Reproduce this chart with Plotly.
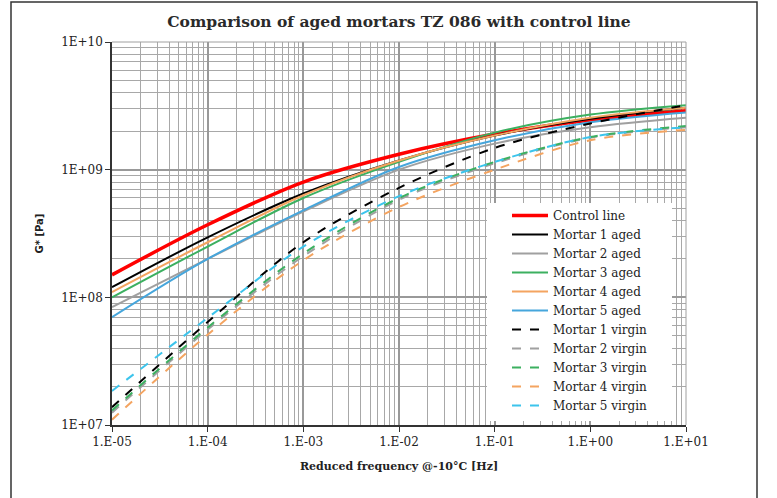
import plotly.graph_objects as go

freq = [1e-5, 1e-4, 1e-3, 1e-2, 1e-1, 1e0, 1e1]

series_names = ["Control line", "Mortar 1 aged", "Mortar 2 aged", "Mortar 3 aged",
                "Mortar 4 aged", "Mortar 5 aged", "Mortar 1 virgin", "Mortar 2 virgin",
                "Mortar 3 virgin", "Mortar 4 virgin", "Mortar 5 virgin"]

control_line = [1.5e8, 3.7e8, 8.0e8, 1.32e9, 1.9e9, 2.45e9, 2.9e9]
mortar1_aged = [1.2e8, 2.95e8, 6.5e8, 1.18e9, 1.85e9, 2.5e9, 3.05e9]
mortar2_aged = [8.4e7, 2.0e8, 4.7e8, 1.0e9, 1.6e9, 2.15e9, 2.55e9]
mortar3_aged = [1.0e8, 2.5e8, 6.0e8, 1.15e9, 1.95e9, 2.7e9, 3.2e9]
mortar4_aged = [1.1e8, 2.7e8, 6.3e8, 1.18e9, 1.85e9, 2.55e9, 3.05e9]
mortar5_aged = [7.0e7, 2.0e8, 4.8e8, 1.05e9, 1.7e9, 2.35e9, 2.8e9]
mortar1_virgin = [1.38e7, 6.4e7, 2.7e8, 7.2e8, 1.48e9, 2.3e9, 3.2e9]
mortar2_virgin = [1.25e7, 5.6e7, 2.1e8, 5.8e8, 1.12e9, 1.78e9, 2.15e9]
mortar3_virgin = [1.3e7, 5.8e7, 2.2e8, 6.0e8, 1.15e9, 1.8e9, 2.2e9]
mortar4_virgin = [1.1e7, 5.1e7, 1.95e8, 5.1e8, 1.0e9, 1.7e9, 2.05e9]
mortar5_virgin = [1.85e7, 6.9e7, 2.5e8, 6.2e8, 1.15e9, 1.8e9, 2.15e9]

x_tickvals = [1e-5, 1e-4, 1e-3, 1e-2, 1e-1, 1e0, 1e1]
x_ticktext = ["1.E-05", "1.E-04", "1.E-03", "1.E-02", "1.E-01", "1.E+00", "1.E+01"]
y_tickvals = [1e7, 1e8, 1e9, 1e10]
y_ticktext = ["1E+07", "1E+08", "1E+09", "1E+10"]

all_values = [control_line, mortar1_aged, mortar2_aged, mortar3_aged, mortar4_aged,
              mortar5_aged, mortar1_virgin, mortar2_virgin, mortar3_virgin,
              mortar4_virgin, mortar5_virgin]

colors = ["#ff0000", "#000000", "#a0a0a0", "#3cb060", "#f4a460", "#46a6dc",
          "#000000", "#a0a0a0", "#3cb060", "#f4a460", "#3cc4ec"]
widths = [3.5, 2, 2, 2, 2, 2, 2, 2, 2, 2, 2]
dashes = ["solid"] * 6 + ["dash"] * 5

SERIF = "DejaVu Serif"

# plot area in pixels
L, R, T, B = 112, 686, 42, 425
W, H = 777, 498
PW, PH = R - L, B - T


def px(xp):
    return (xp - L) / PW


def py(yp):
    return (B - yp) / PH


fig = go.Figure()
for name, vals, c, w, d in zip(series_names, all_values, colors, widths, dashes):
    fig.add_trace(go.Scatter(x=freq, y=vals, name=name, mode="lines",
                             line=dict(color=c, width=w, dash=d, shape="spline", smoothing=0.9)))

grid_col = "#a8a8a8"
fig.update_layout(
    width=W, height=H,
    margin=dict(l=L, r=W - R, t=T, b=H - B),
    paper_bgcolor="white", plot_bgcolor="white",
    font=dict(family=SERIF, size=12, color="#222"),
    title=dict(text="<b>Comparison of aged mortars TZ 086 with control line</b>",
               x=(L + R) / 2 / W, xanchor="center", y=1 - 22 / H, yanchor="middle",
               font=dict(family=SERIF, size=15.5, color="#2a2a2a")),
    showlegend=True,
    legend=dict(x=px(507), xanchor="left", y=py(201), yanchor="top",
                bgcolor="rgba(255,255,255,0)", borderwidth=0, itemwidth=36, tracegroupgap=0,
                font=dict(family=SERIF, size=12, color="#222"),
                itemclick=False),
    xaxis=dict(type="log", range=[-5, 1], tickmode="array", tickvals=x_tickvals,
               ticktext=x_ticktext, showgrid=True, gridcolor="#999999", gridwidth=1.5,
               minor=dict(dtick="D1", showgrid=True, gridcolor=grid_col, gridwidth=1),
               showline=True, linecolor="#333", linewidth=1.5, mirror=False,
               ticks="outside", ticklen=5, tickcolor="#333",
               tickfont=dict(family=SERIF, size=12, color="#222"),
               title=dict(text="<b>Reduced frequency @-10°C [Hz]</b>", standoff=14,
                          font=dict(family=SERIF, size=11, color="#222")),
               zeroline=False, automargin=False),
    yaxis=dict(type="log", range=[7, 10], tickmode="array", tickvals=y_tickvals,
               ticktext=y_ticktext, showgrid=True, gridcolor="#999999", gridwidth=1.5,
               minor=dict(dtick="D1", showgrid=True, gridcolor=grid_col, gridwidth=1),
               showline=True, linecolor="#333", linewidth=1.5, mirror=False,
               ticks="outside", ticklen=5, tickcolor="#333",
               tickfont=dict(family=SERIF, size=12, color="#222"),
               title=dict(text="<b>G* [Pa]</b>", standoff=16,
                          font=dict(family="DejaVu Sans", size=10, color="#222")),
               zeroline=False, automargin=False),
)

# plot-area top/right border
fig.add_shape(type="line", xref="paper", yref="paper", x0=0, x1=1, y0=1, y1=1,
              line=dict(color="#a0a0a0", width=1))
fig.add_shape(type="line", xref="paper", yref="paper", x0=1, x1=1, y0=0, y1=1,
              line=dict(color="#a0a0a0", width=1))
# white legend box covering the grid
fig.add_shape(type="rect", xref="paper", yref="paper",
              x0=px(487), x1=px(672), y0=py(421), y1=py(203),
              fillcolor="white", line=dict(width=0), layer="above")
# outer chart frame
fig.add_shape(type="rect", xref="paper", yref="paper",
              x0=px(11), x1=px(757), y0=py(505), y1=py(2),
              line=dict(color="#333", width=1.5), layer="below")

fig.write_html("out.html", config={"displayModeBar": False},
               post_script="document.body.style.margin='0';")
